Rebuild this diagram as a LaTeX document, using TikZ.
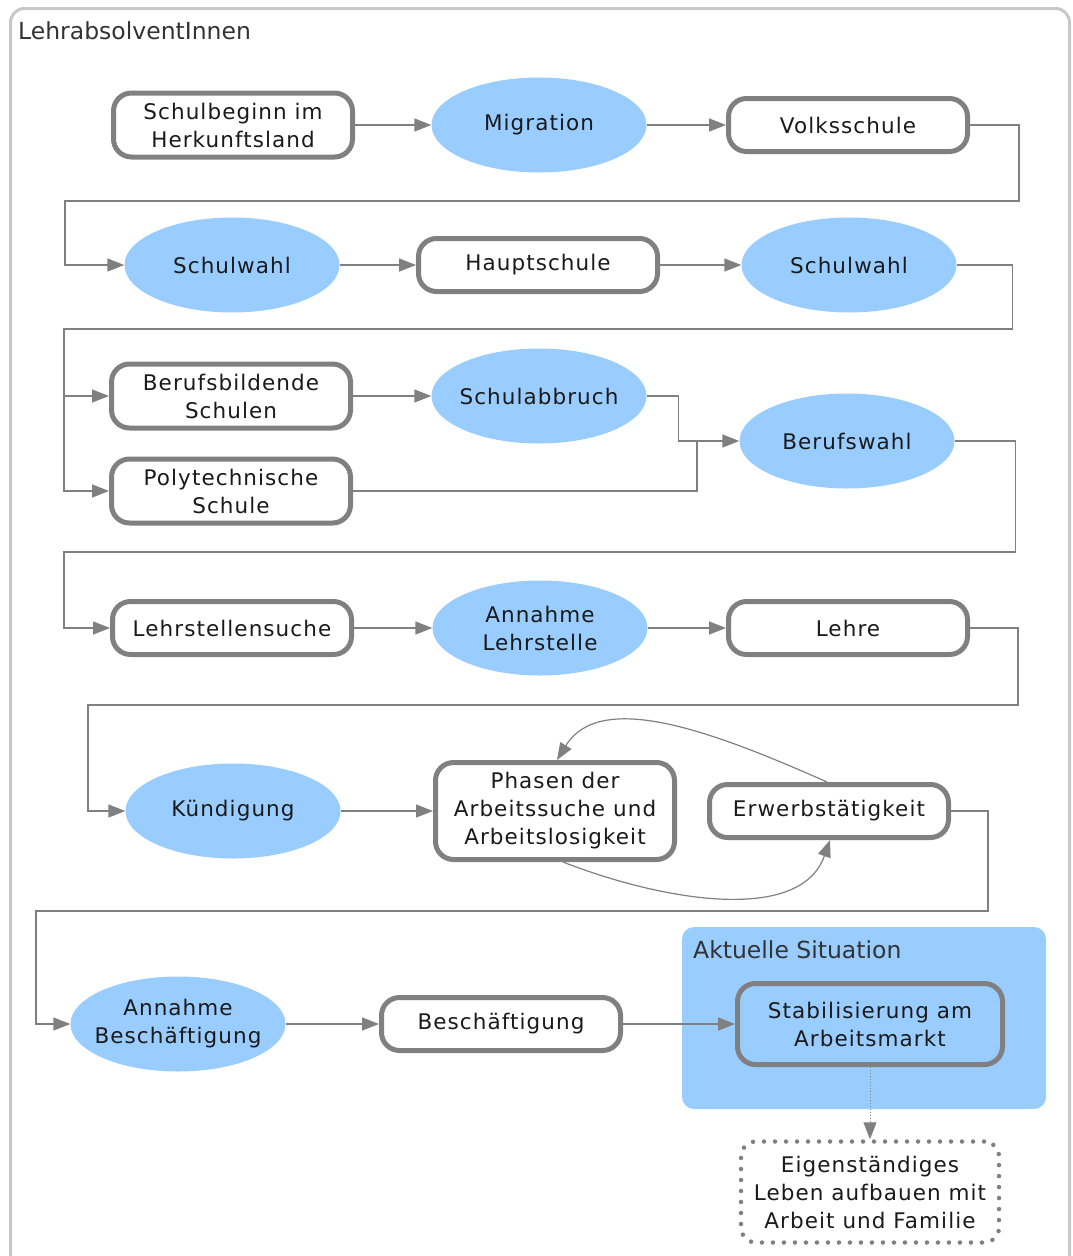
\documentclass[tikz,border=0pt]{standalone}
\usepackage{fontspec}
\setmainfont{DejaVu Sans}
\newfontfamily\stagefont[LetterSpace=5]{DejaVu Sans}
\usetikzlibrary{arrows.meta,shapes.geometric}
\definecolor{stepblue}{HTML}{99CCFF}
\definecolor{edgegray}{HTML}{808080}
\definecolor{framegray}{HTML}{C8C8C8}
\definecolor{inkblack}{HTML}{1A1A1A}
\definecolor{titlegray}{HTML}{333333}
\begin{document}
\begin{tikzpicture}[x=1pt,y=-1pt,
  every node/.style={font=\stagefont\fontsize{21.5}{28}\selectfont, text=inkblack, align=center},
  stage/.style={draw=edgegray, line width=5pt, rounded corners=18pt, fill=white,
    minimum width=239pt, minimum height=53pt, inner sep=0pt},
  stagetall/.style={stage, minimum height=64pt},
  choice/.style={ellipse, fill=stepblue, minimum width=215pt, minimum height=95pt,
    inner xsep=-40pt, inner ysep=-15pt},
  flow/.style={draw=edgegray, line width=1.5pt, -{Triangle[length=17pt,width=13pt]}},
  plainflow/.style={draw=edgegray, line width=1.5pt},
  grouptitle/.style={font=\fontsize{23.5}{28}\selectfont, text=titlegray, anchor=west, inner sep=0pt}
]
\useasboundingbox (0,0) rectangle (1073,1256);
\clip (0,0) rectangle (1073,1256);

% outer frame
\draw[framegray, line width=3pt, rounded corners=14pt] (10.5,8.5) rectangle (1069.5,1290);
\node[grouptitle] (title) at (18,31) {LehrabsolventInnen};

% highlighted group
\fill[stepblue, rounded corners=12pt] (682,927) rectangle (1046,1109);
\node[grouptitle] (current) at (693,950) {Aktuelle Situation};

% row 1
\node[stagetall] (start) at (233,125) {Schulbeginn im\\Herkunftsland};
\node[choice] (migr) at (539,125) {Migration};
\node[stage] (volks) at (848,125) {Volksschule};
% row 2
\node[choice] (wahlA) at (232,265) {Schulwahl};
\node[stage] (haupt) at (538,265) {Hauptschule};
\node[choice] (wahlB) at (849,265) {Schulwahl};
% row 3
\node[stagetall] (bbs) at (231,396) {Berufsbildende\\Schulen};
\node[choice] (abbr) at (539,396) {Schulabbruch};
\node[choice] (beruf) at (847,441) {Berufswahl};
\node[stagetall] (poly) at (231,491) {Polytechnische\\Schule};
% row 4
\node[stage] (suche) at (232,628) {Lehrstellensuche};
\node[choice] (annL) at (540,628) {Annahme\\Lehrstelle};
\node[stage] (lehre) at (848,628) {Lehre};
% row 5
\node[choice] (kuend) at (233,811) {Kündigung};
\node[stage, minimum height=97pt] (phasen) at (555,811) {Phasen der\\Arbeitssuche und\\Arbeitslosigkeit};
\node[stage] (erwerb) at (829,811) {Erwerbstätigkeit};
% row 6
\node[choice] (annB) at (178,1024) {Annahme\\Beschäftigung};
\node[stage] (besch) at (501,1024) {Beschäftigung};
\node[stage, fill=stepblue, minimum width=265pt, minimum height=81pt] (stab) at (870,1024) {Stabilisierung am\\Arbeitsmarkt};
\node[draw=edgegray, line width=4.5pt, dash pattern=on 0pt off 11pt, line cap=round,
  rounded corners=15pt, minimum width=258pt, minimum height=101pt, inner sep=0pt]
  (leben) at (870,1192) {Eigenständiges\\Leben aufbauen mit\\Arbeit und Familie};

% connectors
\draw[flow] (start) -- (migr);
\draw[flow] (migr) -- (volks);
\draw[flow] (volks.east) -- ++(49,0) |- (65,201) |- (wahlA.west);
\draw[flow] (wahlA) -- (haupt);
\draw[flow] (haupt) -- (wahlB);
\coordinate (split) at (64,396);
\draw[flow] (wahlB.east) -- ++(56,0) |- (64,329) |- (bbs.west);
\draw[flow] (split) |- (poly.west);
\draw[flow] (bbs) -- (abbr);
\draw[flow] (abbr.east) -- ++(32,0) |- (beruf.west);
\coordinate (merge) at (697,441);
\draw[plainflow] (poly.east) -| (merge);
\draw[flow] (beruf.east) -- ++(61,0) |- (64,552) |- (suche.west);
\draw[flow] (suche) -- (annL);
\draw[flow] (annL) -- (lehre);
\draw[flow] (lehre.east) -- ++(48,0) |- (88,705) |- (kuend.west);
\draw[flow] (kuend) -- (phasen);
\draw[draw=edgegray, line width=1.2pt, -{Triangle[length=17pt,width=13pt]}]
  ([xshift=-2pt]erwerb.north) .. controls (710,730) and (600,690) .. ([xshift=2pt]phasen.north);
\draw[draw=edgegray, line width=1.2pt, -{Triangle[length=17pt,width=13pt]}]
  ([xshift=8pt]phasen.south) .. controls (660,900) and (800,925) .. ([xshift=1pt]erwerb.south);
\draw[flow] (erwerb.east) -- ++(37,0) |- (36,911) |- (annB.west);
\draw[flow] (annB) -- (besch);
\draw[flow] (besch) -- (stab);
\draw[draw=edgegray, line width=1pt, dotted, -{Triangle[length=17pt,width=13pt]}] (stab) -- (leben);
\end{tikzpicture}
\end{document}
